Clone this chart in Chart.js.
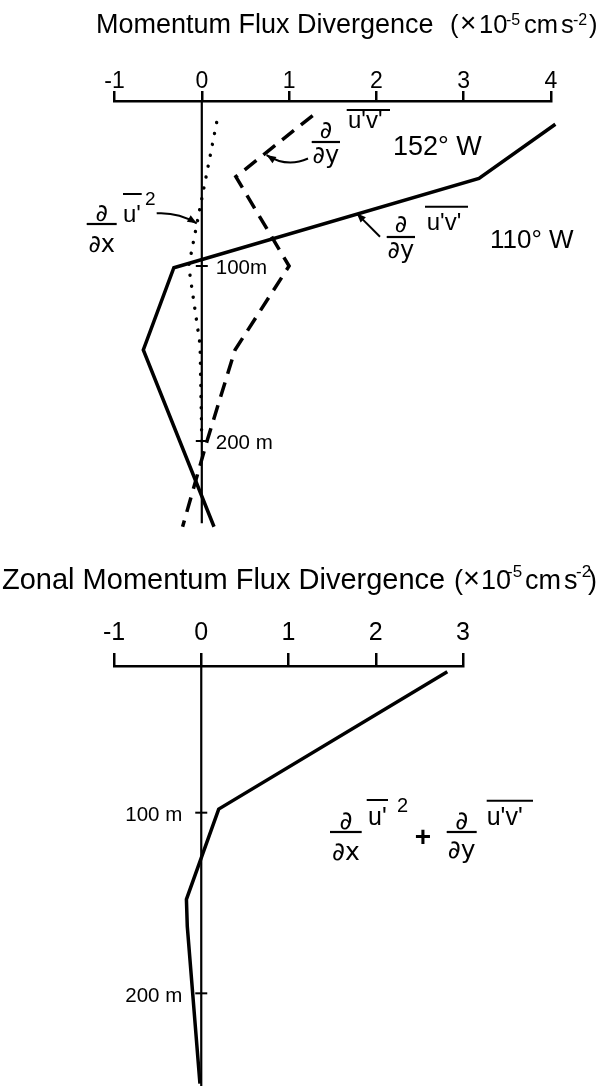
<!DOCTYPE html>
<html lang="en">
<head>
<meta charset="UTF-8">
<title>Momentum Flux Divergence</title>
<script src="https://cdn.jsdelivr.net/npm/chart.js@4.4.1/dist/chart.umd.min.js"></script>
<style>
  * { box-sizing: border-box; margin: 0; padding: 0; }
  html, body { width: 596px; height: 1086px; overflow: hidden; background: #fff; }
  canvas { position: absolute; left: 0; }
  #top { top: 0; }
  #bottom { top: 545px; }
</style>
</head>
<body>
<canvas id="top" width="596" height="545"></canvas>
<canvas id="bottom" width="596" height="541"></canvas>
<script>
  // Axis ticks
  const topTicks = [-1, 0, 1, 2, 3, 4];
  const bottomTicks = [-1, 0, 1, 2, 3];
  const depthTicks = [100, 200];

  // d/dy u'v' at 110°W (depth in m, divergence in 1e-5 cm s-2)
  const depth110 = [19, 50, 101, 148, 249];
  const flux110 = [4.05, 3.175, -0.32, -0.67, 0.14];

  // d/dy u'v' at 152°W
  const depth152 = [14, 49, 100, 148, 200, 249];
  const flux152 = [1.27, 0.39, 1.0, 0.38, 0.06, -0.22];

  // d/dx u'^2
  const depthUU = [18, 100, 145, 200];
  const fluxUU = [0.17, -0.15, -0.02, 0];

  // zonal sum
  const depthSum = [22, 98, 148, 163, 250];
  const fluxSum = [2.82, 0.2, -0.17, -0.16, -0.015];

  const FONT = '"Liberation Sans", Arial, sans-serif';
  const MATH = '"DejaVu Sans", sans-serif';
  const pts = (xs, ys) => xs.map((v, i) => ({ x: v, y: ys[i] }));

  function put(ctx, s, x, y, size, align, weight, family) {
    ctx.font = (weight || 'normal') + ' ' + size + 'px ' + (family || FONT);
    ctx.textAlign = align || 'left';
    ctx.textBaseline = 'alphabetic';
    ctx.fillText(s, x, y);
  }

  function hline(ctx, x1, x2, y, w) {
    ctx.lineWidth = w || 2;
    ctx.beginPath();
    ctx.moveTo(x1, y);
    ctx.lineTo(x2, y);
    ctx.stroke();
  }

  function frac(ctx, f) {
    const cx = (f.x1 + f.x2) / 2;
    hline(ctx, f.x1, f.x2, f.bar, 2.2);
    put(ctx, f.num, cx, f.numBase, f.size, 'center', 'normal', MATH);
    put(ctx, f.den, cx, f.denBase, f.size, 'center', 'normal', MATH);
  }

  function arrow(ctx, tail, ctrl, tip) {
    ctx.lineWidth = 2;
    ctx.beginPath();
    ctx.moveTo(tail[0], tail[1]);
    if (ctrl) ctx.quadraticCurveTo(ctrl[0], ctrl[1], tip[0], tip[1]);
    else ctx.lineTo(tip[0], tip[1]);
    ctx.stroke();
    const from = ctrl || tail;
    const a = Math.atan2(tip[1] - from[1], tip[0] - from[0]);
    ctx.beginPath();
    ctx.moveTo(tip[0], tip[1]);
    ctx.lineTo(tip[0] - 10 * Math.cos(a - 0.38), tip[1] - 10 * Math.sin(a - 0.38));
    ctx.lineTo(tip[0] - 10 * Math.cos(a + 0.38), tip[1] - 10 * Math.sin(a + 0.38));
    ctx.closePath();
    ctx.fill();
  }

  // axis title: [text, x, size, raise]
  function title(ctx, parts, base) {
    parts.forEach(([s, x, size, raise]) => put(ctx, s, x, base - (raise || 0), size));
  }

  // zero line with depth ticks
  function depthAxis(side, lineEnd, labels) {
    return {
      id: 'depthAxis',
      beforeDatasetsDraw(chart) {
        const { ctx, chartArea, scales: { x, y } } = chart;
        const x0 = x.getPixelForValue(0);
        ctx.save();
        ctx.strokeStyle = '#000';
        ctx.fillStyle = '#000';
        ctx.lineWidth = 2.2;
        ctx.beginPath();
        ctx.moveTo(x0, chartArea.top);
        ctx.lineTo(x0, lineEnd ? y.getPixelForValue(lineEnd) : chartArea.bottom);
        ctx.stroke();
        depthTicks.forEach((d, i) => {
          const py = y.getPixelForValue(d);
          hline(ctx, x0 - 6, x0 + 6, py, 2);
          if (side === 'right') put(ctx, labels[i], x0 + 14, py + 7.5, 20.5, 'left');
          else put(ctx, labels[i], x0 - 19, py + 8.5, 20.5, 'right');
        });
        ctx.restore();
      }
    };
  }

  function makeChart(id, o) {
    return new Chart(document.getElementById(id), {
      type: 'scatter',
      data: { datasets: o.datasets },
      options: {
        responsive: false,
        animation: false,
        layout: { padding: o.padding },
        plugins: { legend: { display: false }, tooltip: { enabled: false } },
        scales: {
          x: {
            type: 'linear',
            position: 'top',
            min: o.ticks[0],
            max: o.ticks[o.ticks.length - 1],
            afterBuildTicks: s => { s.ticks = o.ticks.map(v => ({ value: v })); },
            afterFit: s => { s.height = o.axisHeight; },
            grid: { drawOnChartArea: false, drawTicks: true, tickLength: o.tickLength, color: '#000', lineWidth: 2.5 },
            border: { display: true, color: '#000', width: 2.5 },
            ticks: { color: '#000', font: { family: FONT, size: o.tickSize }, padding: o.tickPadding, maxRotation: 0, autoSkip: false }
          },
          y: { type: 'linear', display: false, reverse: true, min: o.yMin, max: o.yMax }
        }
      },
      plugins: [depthAxis(o.side, o.lineEnd, o.depthLabels), { id: 'notes', afterDraw: o.notes }]
    });
  }

  const lineStyle = { showLine: true, borderColor: '#000', backgroundColor: '#000', borderWidth: 3.5, pointRadius: 0, fill: false, tension: 0, clip: false };

  makeChart('top', {
    ticks: topTicks,
    padding: { left: 114.5, right: 45, top: 0, bottom: 16.5 },
    axisHeight: 101,
    tickLength: 10,
    tickSize: 23,
    tickPadding: -4.5,
    yMin: 5.7, yMax: 250,
    side: 'right',
    lineEnd: 247,
    depthLabels: ['100m', '200 m'],
    datasets: [
      { ...lineStyle, data: pts(flux110, depth110) },
      { ...lineStyle, data: pts(flux152, depth152), borderDash: [15, 9] },
      { ...lineStyle, data: pts(fluxUU, depthUU), borderDash: [0.1, 11], borderCapStyle: 'round', borderWidth: 3.4 }
    ],
    notes(chart) {
      const { ctx, scales: { x, y } } = chart;
      const at = (v, d) => [x.getPixelForValue(v), y.getPixelForValue(d)];
      ctx.save();
      ctx.fillStyle = '#000';
      ctx.strokeStyle = '#000';

      title(ctx, [
        ['Momentum Flux Divergence', 96, 27],
        ['(', 450, 25.5], ['×', 460, 28, 1], ['10', 479, 25.5],
        ['-5', 506, 16, 8], ['cm', 524, 25.5], ['s', 561, 25.5],
        ['-2', 573, 16, 8], [')', 589, 25.5]
      ], 33);

      // 152°W label
      frac(ctx, { num: '∂', den: '∂y', x1: 311.7, x2: 340, bar: 142, numBase: 138, denBase: 163, size: 24 });
      put(ctx, "u'v'", 348, 128, 24);
      hline(ctx, 346.7, 390, 110, 2);
      put(ctx, '152° W', 393, 155, 27);
      arrow(ctx, [308, 158.5], [287, 168], at(0.742, 36.6));

      // 110°W label
      frac(ctx, { num: '∂', den: '∂y', x1: 386.7, x2: 415, bar: 237, numBase: 232, denBase: 258, size: 24 });
      put(ctx, "u'v'", 426.7, 230, 24);
      hline(ctx, 425, 468, 206.7, 2);
      put(ctx, '110° W', 490, 248, 26);
      arrow(ctx, [380, 236.7], null, at(1.774, 69.9));

      // d/dx u'^2 label
      frac(ctx, { num: '∂', den: '∂x', x1: 86.7, x2: 116.7, bar: 224, numBase: 220.5, denBase: 252, size: 24 });
      put(ctx, "u'", 123, 221.7, 24);
      hline(ctx, 123, 141.7, 194, 2);
      put(ctx, '2', 145, 205, 19);
      arrow(ctx, [156.7, 213.3], [178, 212], at(-0.058, 75.6));
      ctx.restore();
    }
  });

  makeChart('bottom', {
    ticks: bottomTicks,
    padding: { left: 114, right: 133, top: 0, bottom: 0 },
    axisHeight: 121,
    tickLength: 13,
    tickSize: 25,
    tickPadding: 4.5,
    yMin: 18.8, yMax: 251.3,
    side: 'left',
    lineEnd: null,
    depthLabels: ['100 m', '200 m'],
    datasets: [
      { ...lineStyle, data: pts(fluxSum, depthSum) }
    ],
    notes(chart) {
      const { ctx } = chart;
      ctx.save();
      ctx.fillStyle = '#000';
      ctx.strokeStyle = '#000';

      title(ctx, [
        ['Zonal Momentum Flux Divergence', 2, 29],
        ['(', 454, 27], ['×', 463, 29, 1], ['10', 481, 27],
        ['-5', 507, 17, 12], ['cm', 525, 27], ['s', 564, 27],
        ['-2', 576, 17, 12], [')', 588, 27]
      ], 44);

      // sum label
      frac(ctx, { num: '∂', den: '∂x', x1: 330, x2: 361.7, bar: 287, numBase: 284, denBase: 315, size: 25 });
      put(ctx, "u'", 368, 280, 25);
      hline(ctx, 366.7, 388, 255, 2);
      put(ctx, '2', 397, 266.7, 20);
      put(ctx, '+', 423, 301, 28, 'center', 'bold');
      frac(ctx, { num: '∂', den: '∂y', x1: 446.7, x2: 476.7, bar: 287, numBase: 284, denBase: 313, size: 25 });
      put(ctx, "u'v'", 486.7, 280, 25);
      hline(ctx, 486.7, 533, 255.7, 2);
      ctx.restore();
    }
  });
</script>
</body>
</html>
